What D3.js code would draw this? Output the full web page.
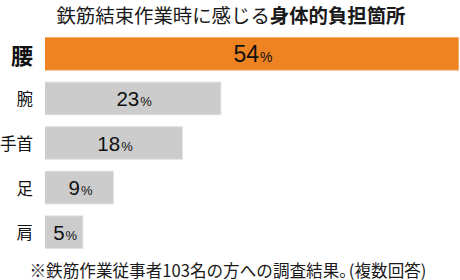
<!DOCTYPE html>
<html><head><meta charset="utf-8">
<script src="https://cdn.jsdelivr.net/npm/d3@7"></script>
<style>
html,body{margin:0;padding:0;background:#fff;}
svg{display:block;}
</style>
</head><body>
<script>
const categories = ["腰", "腕", "手首", "足", "肩"];
const values = [54, 23, 18, 9, 5];
const highlight = ["腰"];
const titleNormal = "鉄筋結束作業時に感じる";
const titleBold = "身体的負担箇所";
const footnoteParts = ["※鉄筋作業従事者103名の方への調査結果。", "(複数回答)"];

const W = 460, H = 280;
const jp = "'Noto Sans CJK JP', 'Noto Sans', sans-serif";
const num = "'Liberation Sans', Arial, sans-serif";

const svg = d3.select("body").append("svg").attr("width", W).attr("height", H);

const x = d3.scaleLinear().domain([0, d3.max(values)]).range([45, 459]);
const y = d3.scaleBand().domain(categories).range([37, 249]).paddingInner(0.245);

// title
const t = svg.append("text").attr("x", 231).attr("y", 22.5).attr("text-anchor", "middle")
  .attr("font-family", jp).attr("font-size", 19.4).attr("fill", "#1a1a1a");
t.append("tspan").text(titleNormal);
t.append("tspan").attr("font-weight", "bold").text(titleBold);

const data = categories.map((c, i) => ({c, v: values[i], hi: highlight.includes(c)}));

const g = svg.append("g");
// outer light edge
g.selectAll("rect.edge").data(data).join("rect").attr("class", "edge")
  .attr("x", x(0)).attr("y", d => y(d.c))
  .attr("width", d => x(d.v) - x(0)).attr("height", y.bandwidth())
  .attr("fill", d => d.hi ? "#f4ab6a" : "#e2e2e2");
// inner fill
g.selectAll("rect.bar").data(data).join("rect").attr("class", "bar")
  .attr("x", x(0)).attr("y", d => y(d.c) + 1)
  .attr("width", d => x(d.v) - x(0) - 1).attr("height", y.bandwidth() - 2)
  .attr("fill", d => d.hi ? "#ef8322" : "#cccccc");

// category labels
g.selectAll("text.cat").data(data).join("text").attr("class", "cat")
  .attr("x", 33).attr("y", d => y(d.c) + y.bandwidth() / 2)
  .attr("text-anchor", "end").attr("dominant-baseline", "central")
  .attr("font-family", jp)
  .attr("font-size", d => d.hi ? 22 : 16.5)
  .attr("font-weight", d => d.hi ? "bold" : "normal")
  .attr("fill", "#111")
  .text(d => d.c);

// value labels
const vl = g.selectAll("text.val").data(data).join("text").attr("class", "val")
  .attr("x", d => (x(0) + x(d.v)) / 2 + 1)
  .attr("y", d => y(d.c) + y.bandwidth() / 2 + (d.hi ? 8 : 7.5))
  .attr("text-anchor", "middle")
  .attr("font-family", num).attr("fill", "#111");
vl.append("tspan").attr("font-size", d => d.hi ? 23 : 20.5).text(d => d.v);
vl.append("tspan").attr("font-size", d => d.hi ? 14 : 13).attr("dx", 1).text("%");

// footnote
const f = svg.append("text").attr("x", 228).attr("y", 276.5).attr("text-anchor", "middle")
  .attr("font-family", jp).attr("font-size", 16.6).attr("fill", "#1a1a1a");
f.append("tspan").text(footnoteParts[0]);
f.append("tspan").attr("dx", -7).text(footnoteParts[1]);
</script>
</body></html>
